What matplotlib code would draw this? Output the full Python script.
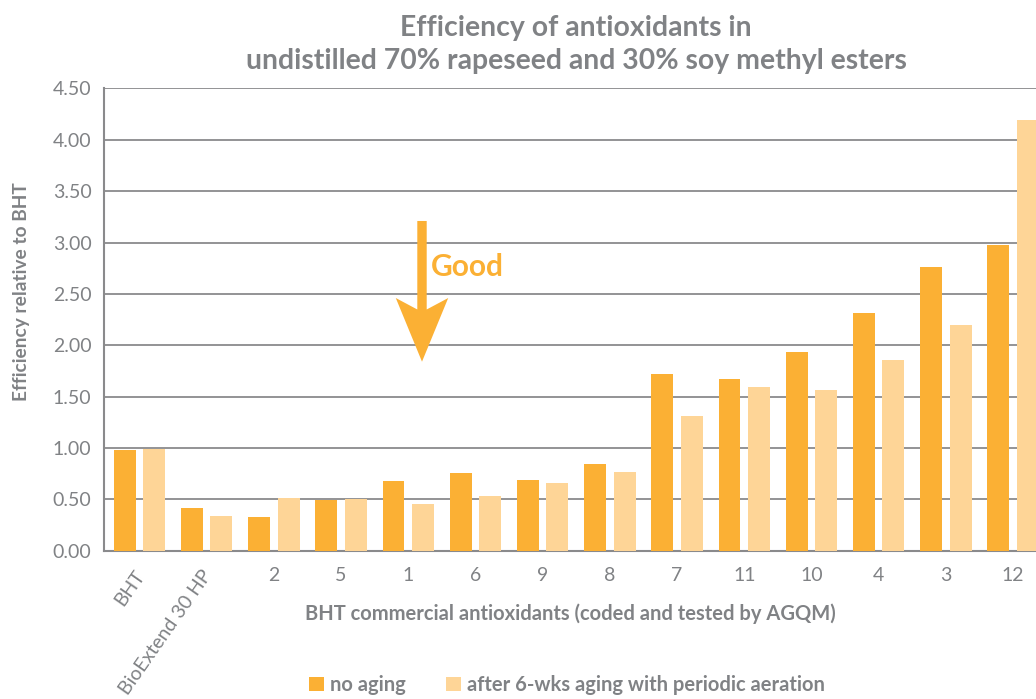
import matplotlib.pyplot as plt
import matplotlib.patches as mpatches
import matplotlib.transforms as mtransforms
import numpy as np

# data
categories = ["BHT", "BioExtend 30 HP", "2", "5", "1", "6", "9", "8", "7", "11", "10", "4", "3", "12"]
no_aging = [0.98, 0.42, 0.33, 0.49, 0.68, 0.76, 0.69, 0.84, 1.72, 1.67, 1.93, 2.31, 2.76, 2.98]
aged = [0.99, 0.34, 0.51, 0.50, 0.45, 0.53, 0.66, 0.77, 1.31, 1.59, 1.56, 1.86, 2.20, 4.19]
yticks = [0.0, 0.5, 1.0, 1.5, 2.0, 2.5, 3.0, 3.5, 4.0, 4.5]

dark = "#fbb034"
light = "#fed597"
grey = "#808285"
font = "Lato"

plt.rcParams["font.family"] = [font, "DejaVu Sans"]

fig = plt.figure(figsize=(10.36, 6.99), dpi=100)
ax = fig.add_axes([0.1004, 0.2122, 0.9116, 0.6612])

x = np.arange(len(categories))
w = 0.327
off = 0.219
ax.bar(x - off, no_aging, w, color=dark, label="no aging", zorder=3)
ax.bar(x + off, aged, w, color=light, label="after 6-wks aging with periodic aeration", zorder=3)

ax.set_xlim(-0.527, 13.527)
ax.set_ylim(0, 4.5)
ax.set_yticks(yticks)
ax.set_yticklabels([f"{v:.2f}" for v in yticks])
ax.yaxis.grid(True, color="#8a8a8c", lw=1.3, zorder=0)
ax.set_axisbelow(True)

for s in ["top", "right"]:
    ax.spines[s].set_visible(False)
for s in ["left", "bottom"]:
    ax.spines[s].set_color("#8a8a8c")
    ax.spines[s].set_linewidth(1.5)

ax.tick_params(axis="y", length=0, pad=9, labelsize=14, labelcolor=grey)
ax.tick_params(axis="x", length=0, pad=12, labelsize=14, labelcolor=grey)
ax.set_xticks(x)
ax.set_xticklabels(categories)
shift = mtransforms.ScaledTranslation(9 / 100, 0, fig.dpi_scale_trans)
for lab in ax.get_xticklabels()[:2]:
    lab.set_rotation(55)
    lab.set_ha("right")
    lab.set_va("top")
    lab.set_transform(lab.get_transform() + shift)

ax.set_title("Efficiency of antioxidants in\nundistilled 70% rapeseed and 30% soy methyl esters",
             fontsize=20.4, fontweight="bold", color=grey, pad=14, linespacing=1.35)
ax.set_ylabel("Efficiency relative to BHT", fontsize=13.8, fontweight="bold", color=grey)
ax.yaxis.set_label_coords(-0.078, 0.56)
ax.set_xlabel("BHT commercial antioxidants (coded and tested by AGQM)",
              fontsize=14.5, fontweight="bold", color=grey)
ax.xaxis.set_label_coords(0.4934, -0.114)

# "Good" arrow
arrow = mpatches.FancyArrow(4.205, 3.21, 0, -1.37, width=0.14, head_width=0.78,
                            head_length=0.62, overhang=0.18, length_includes_head=True,
                            color=dark, lw=0, zorder=4)
ax.add_patch(arrow)
ax.text(4.34, 2.76, "Good", color=dark, fontsize=21.5, fontweight="bold", va="center", ha="left")

fig.legend(loc="lower center", bbox_to_anchor=(567 / 1036, -0.012), ncol=2, frameon=False,
           handlelength=0.75, handleheight=0.7, handletextpad=0.3, columnspacing=2.0,
           borderpad=0.1, prop={"family": [font, "DejaVu Sans"], "weight": "bold", "size": 14.5},
           labelcolor=grey)

fig.savefig("out.png", dpi=100)
